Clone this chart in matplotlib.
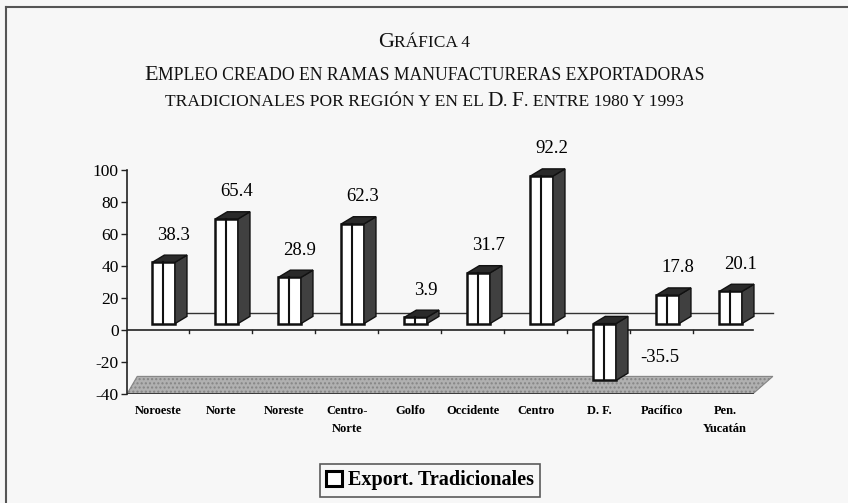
import numpy as np
import matplotlib.pyplot as plt
from matplotlib.patches import Polygon, Rectangle, Patch
from matplotlib.lines import Line2D

regiones = ['Noroeste', 'Norte', 'Noreste', 'Centro-\nNorte', 'Golfo',
            'Occidente', 'Centro', 'D. F.', 'Pacífico', 'Pen.\nYucatán']
empleo = [38.3, 65.4, 28.9, 62.3, 3.9, 31.7, 92.2, -35.5, 17.8, 20.1]
yticks = [-40, -20, 0, 20, 40, 60, 80, 100]

serif = 'Liberation Serif'
bg = '#f7f7f7'

fig = plt.figure(figsize=(8.48, 5.03), dpi=100, facecolor=bg)
W, H = 848, 503
ax = fig.add_axes([127 / W, 109 / H, 648 / W, 232 / H])
ax.set_xlim(-0.492, 9.794)
ax.set_ylim(-40, 105)
ax.patch.set_visible(False)

for s in ['top', 'right', 'bottom']:
    ax.spines[s].set_visible(False)
ax.spines['left'].set_bounds(-40, 100)
ax.spines['left'].set_color('#222')
ax.spines['left'].set_linewidth(1.2)

ax.set_yticks(yticks)
ax.set_yticklabels([str(t) for t in yticks], fontfamily=serif, fontsize=12.5)
ax.tick_params(axis='y', length=4, width=1, color='#222', pad=2)
ax.set_xticks(range(len(regiones)))
ax.set_xticklabels(regiones, fontfamily=serif, fontsize=9, fontweight='bold')
ax.tick_params(axis='x', length=0, pad=8)
for lab in ax.get_xticklabels():
    lab.set_linespacing(1.7)

# floor of the 3d box
x_left, x_right = -0.492, 9.44
floor = Polygon([(x_left, -40), (x_right, -40), (9.76, -29), (-0.33, -29)],
                closed=True, facecolor='#b0b0b0', edgecolor='#858585',
                hatch='....', linewidth=0.8, zorder=1)
ax.add_patch(floor)
ax.plot([x_left, x_right], [-40, -40], color='#333', lw=1.3, zorder=2)
# back wall baseline and front zero line
ax.plot([0.2, 9.76], [10.6, 10.6], color='#333', lw=1, zorder=1)
ax.plot([x_left, x_right], [0, 0], color='#222', lw=1.2, zorder=2)
for k in np.arange(-0.5, 9.0, 1.0):
    ax.plot([k, k], [0, -2], color='#222', lw=1, zorder=2)
    ax.plot([k, k], [-40, -42], color='#222', lw=1, zorder=2)

# pseudo 3d bars
b0, w, dx, dy = 4, 0.36, 0.19, 4.5
for i, v in enumerate(empleo):
    x0 = i - 0.09
    lo, hi = (b0, v + b0) if v >= 0 else (v + b0, b0)
    ax.add_patch(Rectangle((x0, lo), w, hi - lo, facecolor='white',
                           edgecolor='#111', linewidth=1.8, zorder=4))
    ax.plot([x0 + w * 0.45] * 2, [lo, hi], color='#111', lw=1.5, zorder=5)
    ax.add_patch(Polygon([(x0 + w, lo), (x0 + w + dx, lo + dy),
                          (x0 + w + dx, hi + dy), (x0 + w, hi)],
                         closed=True, facecolor='#404040', edgecolor='#111',
                         linewidth=1, zorder=4))
    ax.add_patch(Polygon([(x0, hi), (x0 + w, hi), (x0 + w + dx, hi + dy),
                          (x0 + dx, hi + dy)], closed=True,
                         facecolor='#2a2a2a', edgecolor='#111',
                         linewidth=1, zorder=4))
    if v >= 0:
        ax.text(i + 0.25, v + 21, f'{v:.1f}', ha='center', va='center',
                fontfamily=serif, fontsize=13.5, zorder=6)
    else:
        ax.text(i + 0.97, -17.5, f'{v:.1f}', ha='center', va='center',
                fontfamily=serif, fontsize=13.5, zorder=6)


def small_caps(text, xc, y_base, big, small):
    runs = []
    for ch in text:
        size = big if ch.isupper() else small
        if runs and runs[-1][1] == size:
            runs[-1][0] += ch.upper()
        else:
            runs.append([ch.upper(), size])
    r = fig.canvas.get_renderer()
    items = []
    total = 0
    for s, size in runs:
        t = fig.text(0, y_base, s, fontfamily=serif, fontsize=size,
                     va='baseline', ha='left', color='#111')
        wpx = t.get_window_extent(renderer=r).width
        items.append((t, wpx))
        total += wpx
    x = xc * W - total / 2
    for t, wpx in items:
        t.set_x(x / W)
        x += wpx


small_caps('Gráfica 4', 424 / W, 1 - 47 / H, 16, 12.5)
small_caps('Empleo creado en ramas manufactureras exportadoras',
           424 / W, 1 - 80 / H, 16, 12.7)
small_caps('tradicionales por región y en el D. F. entre 1980 y 1993',
           424 / W, 1 - 106 / H, 15.5, 12.6)

# frame lines of the scanned page
fig.add_artist(Line2D([6 / W, 1], [1 - 7 / H] * 2, transform=fig.transFigure,
                      color='#555', lw=1.5))
fig.add_artist(Line2D([6 / W, 6 / W], [0, 1 - 7 / H], transform=fig.transFigure,
                      color='#555', lw=1.5))

handle = Patch(facecolor='white', edgecolor='black', linewidth=2.2,
               label='Export. Tradicionales')
leg = fig.legend(handles=[handle], loc='center',
                 bbox_to_anchor=(430 / W, 1 - 480.5 / H), frameon=True,
                 fancybox=False, edgecolor='#333', facecolor=bg,
                 prop=dict(family=serif, weight='bold', size=14.5),
                 handlelength=0.75, handleheight=0.75, handletextpad=0.3,
                 borderpad=0.3, borderaxespad=0)
leg.get_frame().set_linewidth(1.2)

fig.savefig('out.png', dpi=100, facecolor=bg)
